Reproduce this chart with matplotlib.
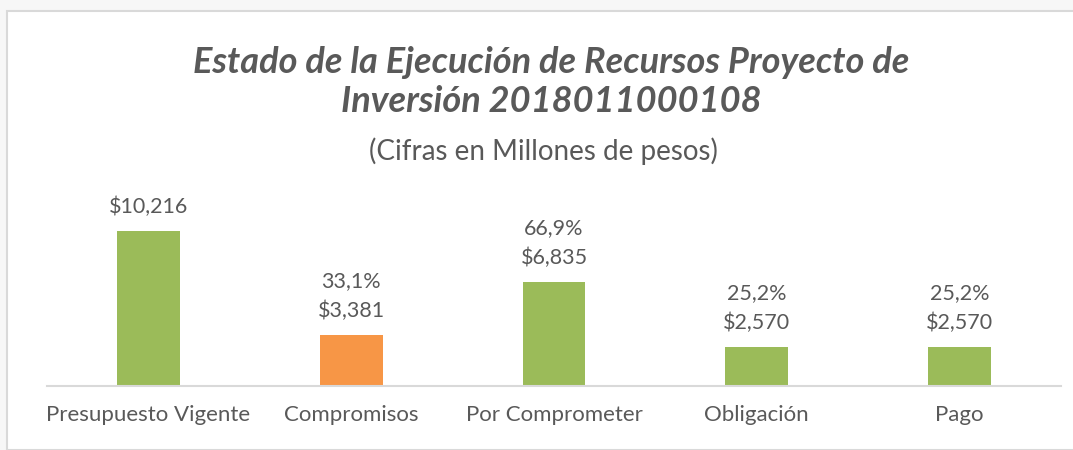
import matplotlib.pyplot as plt
from matplotlib.patches import Rectangle

categories = ['Presupuesto Vigente', 'Compromisos', 'Por Comprometer', 'Obligación', 'Pago']
values = [10216, 3381, 6835, 2570, 2570]
pct_labels = ['', '33,1%', '66,9%', '25,2%', '25,2%']
value_labels = ['$10,216', '$3,381', '$6,835', '$2,570', '$2,570']
colors = ['#9BBB59', '#F79646', '#9BBB59', '#9BBB59', '#9BBB59']

plt.rcParams['font.family'] = ['Lato', 'DejaVu Sans']
text_color = '#595959'

fig = plt.figure(figsize=(10.73, 4.5), dpi=100)
fig.patch.set_facecolor('#f7f7f7')

# white chart area with light border
fig.patches.append(Rectangle((7 / 1073, 0), 1, 1 - 11 / 450, transform=fig.transFigure,
                             facecolor='white', edgecolor='#d9d9d9', linewidth=1.5, zorder=-10))

ax = fig.add_axes([47 / 1073, 64 / 450, 1014 / 1073, 197 / 450])
ax.set_facecolor('none')
x = range(len(categories))
ax.bar(x, values, width=0.31, color=colors, zorder=2)
ax.set_xlim(-0.5, len(categories) - 0.5)
ax.set_ylim(0, 13000)

for i, v in enumerate(values):
    lbl = value_labels[i] if not pct_labels[i] else pct_labels[i] + '\n' + value_labels[i]
    ax.annotate(lbl, (i, v), xytext=(0, 10), textcoords='offset points', ha='center', va='bottom',
                fontsize=15.5, color=text_color, linespacing=1.6)

for s in ['top', 'right', 'left']:
    ax.spines[s].set_visible(False)
ax.spines['bottom'].set_color('#d9d9d9')
ax.spines['bottom'].set_linewidth(1.5)
ax.set_yticks([])
ax.set_xticks(list(x))
ax.set_xticklabels(categories, fontsize=16, color=text_color)
ax.tick_params(axis='x', length=0, pad=14)

fig.text(0.514, 1 - 112 / 450, 'Estado de la Ejecución de Recursos Proyecto de\nInversión 2018011000108',
         ha='center', va='baseline', fontsize=26, fontweight='bold', fontstyle='italic',
         color=text_color, linespacing=1.22)
fig.text(0.506, 1 - 160 / 450, '(Cifras en Millones de pesos)', ha='center', va='baseline',
         fontsize=20, color=text_color)

plt.savefig('out.png', dpi=100)
plt.close()
